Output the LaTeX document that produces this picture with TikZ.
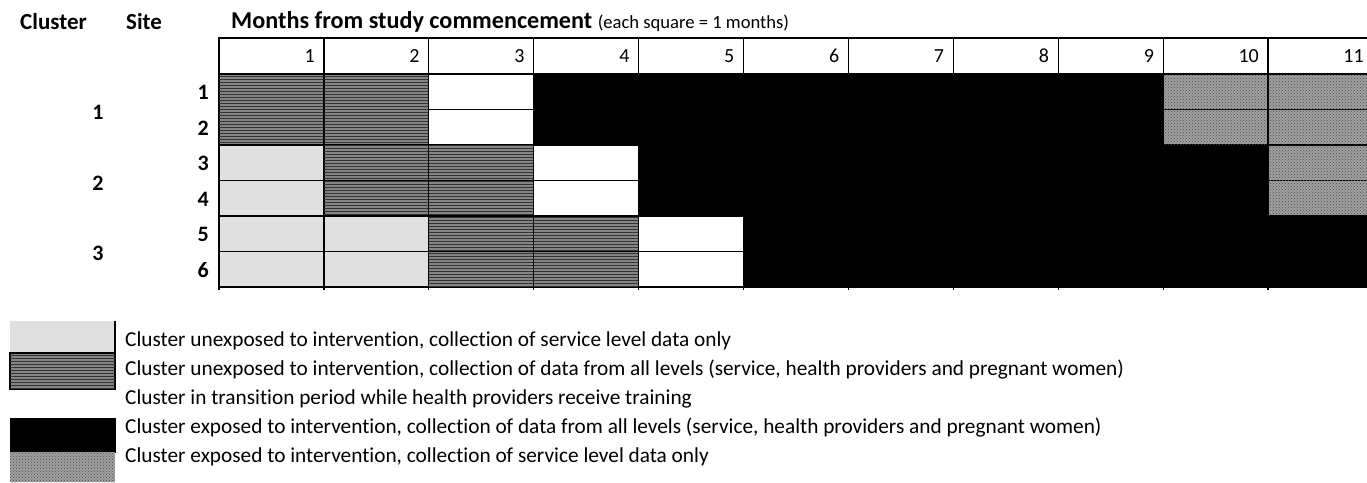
\documentclass[tikz,border=0pt]{standalone}
\usepackage{fontspec}
\setmainfont[Ligatures=NoCommon]{Carlito}
\usetikzlibrary{patterns}
\definecolor{lightg}{HTML}{E0E0E0}
\definecolor{hatchg}{HTML}{858585}
\definecolor{texg}{HTML}{A0A0A0}
\tikzset{
  grid/.style={draw=black, line width=1.2pt},
  lightcell/.style={grid, fill=lightg},
  whitecell/.style={grid, fill=white},
  hatchcell/.style={grid, fill=hatchg, postaction={pattern=horizontal lines, pattern color=black!80}},
  blackcell/.style={fill=black, draw=black, line width=0.5pt},
  texcell/.style={grid, fill=texg, postaction={pattern=crosshatch dots, pattern color=black!70}},
  hdr/.style={font=\fontsize{23}{26}\selectfont\bfseries, inner sep=0pt},
  lab/.style={font=\fontsize{22}{25}\selectfont\bfseries, inner sep=0pt},
  num/.style={font=\fontsize{20}{23}\selectfont, inner sep=0pt, anchor=east},
  leg/.style={font=\fontsize{21.3}{25}\selectfont, inner sep=0pt, anchor=west}
}
\newcommand\mycell[3]{\path[#3] ({219+(#1-1)*104.9},{74+(#2-1)*35.5}) rectangle ++(104.9,35.5);}
\begin{document}
\begin{tikzpicture}[x=1pt,y=-1pt]
\clip (0,0) rectangle (1367,482);
\fill[white] (0,0) rectangle (1367,482);
% header
\node[hdr, anchor=west] (hcl) at (20,22) {Cluster};
\node[hdr, anchor=west] (hsite) at (126,22) {Site};
\node[hdr, anchor=west, font=\fontsize{24.2}{28}\selectfont\bfseries] (hmon) at (231,22) {Months from study commencement \fontsize{18.6}{22}\selectfont\mdseries(each square = 1 months)};
% header row
\foreach \c in {1,...,11}{
  \path[whitecell] ({219+(\c-1)*104.9},38) rectangle ++(104.9,36);
  \node[num] (m\c) at ({219+\c*104.9-9},56) {\c};
}
% rows 1-2
\foreach \r in {1,2}{
  \mycell{1}{\r}{hatchcell}\mycell{2}{\r}{hatchcell}
  \mycell{3}{\r}{whitecell}
  \foreach \c in {4,...,9}{\mycell{\c}{\r}{blackcell}}
  \mycell{10}{\r}{texcell}\mycell{11}{\r}{texcell}
}
% rows 3-4
\foreach \r in {3,4}{
  \mycell{1}{\r}{lightcell}
  \mycell{2}{\r}{hatchcell}\mycell{3}{\r}{hatchcell}
  \mycell{4}{\r}{whitecell}
  \foreach \c in {5,...,10}{\mycell{\c}{\r}{blackcell}}
  \mycell{11}{\r}{texcell}
}
% rows 5-6
\foreach \r in {5,6}{
  \mycell{1}{\r}{lightcell}\mycell{2}{\r}{lightcell}
  \mycell{3}{\r}{hatchcell}\mycell{4}{\r}{hatchcell}
  \mycell{5}{\r}{whitecell}
  \foreach \c in {6,...,11}{\mycell{\c}{\r}{blackcell}}
}
% bottom ticks
\foreach \c in {0,...,11}{
  \draw[line width=1.2pt] ({219+\c*104.9},287) -- ++(0,3);
}
% site and cluster labels
\foreach \s in {1,...,6}{
  \node[lab, anchor=east] (s\s) at (209,{92.5+(\s-1)*35.5}) {\s};
}
\node[lab] (c1) at (98,112) {1};
\node[lab] (c2) at (98,183) {2};
\node[lab] (c3) at (98,253) {3};
% legend
\path[fill=lightg] (10,321) rectangle (115,353);
\draw[line width=1.2pt] (115,321) -- (115,353);
\path[hatchcell] (10,353) rectangle (115,389);
\path[blackcell] (10,418) rectangle (115,452);
\path[texcell, draw=none] (10,452) rectangle (115,482);
\node[leg] (l1) at (125,341) {Cluster unexposed to intervention, collection of service level data only};
\node[leg] (l2) at (125,370) {Cluster unexposed to intervention, collection of data from all levels (service, health providers and pregnant women)};
\node[leg] (l3) at (125,399) {Cluster in transition period while health providers receive training};
\node[leg] (l4) at (125,428) {Cluster exposed to intervention, collection of data from all levels (service, health providers and pregnant women)};
\node[leg] (l5) at (125,457) {Cluster exposed to intervention, collection of service level data only};
\end{tikzpicture}
\end{document}
